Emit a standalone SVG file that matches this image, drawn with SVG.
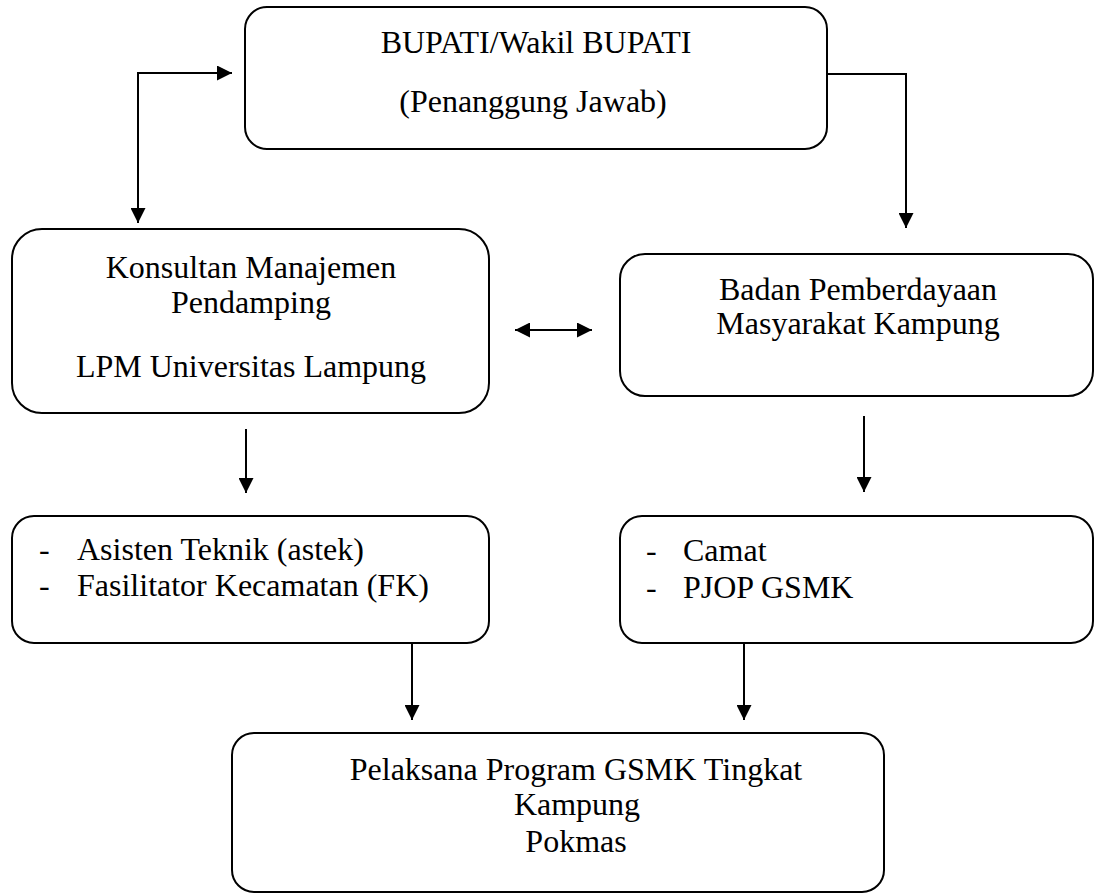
<svg xmlns="http://www.w3.org/2000/svg" width="1095" height="894" viewBox="0 0 1095 894">
<defs>
<marker id="ah" markerUnits="userSpaceOnUse" markerWidth="16" markerHeight="15" refX="15" refY="7.5" orient="auto-start-reverse">
<path d="M0,0 L15,7.5 L0,15 Z" fill="#000"/>
</marker>
</defs>
<rect width="1095" height="894" fill="#fff"/>
<g id="connectors" fill="none" stroke="#000" stroke-width="2">
<path d="M138,223 V73 H232" marker-start="url(#ah)" marker-end="url(#ah)"/>
<path d="M827,74 H906 V228" marker-end="url(#ah)"/>
<path d="M515,330 H592" marker-start="url(#ah)" marker-end="url(#ah)"/>
<path d="M246,429 V493" marker-end="url(#ah)"/>
<path d="M864,416 V492" marker-end="url(#ah)"/>
<path d="M412,643 V720" marker-end="url(#ah)"/>
<path d="M744,643 V720" marker-end="url(#ah)"/>
</g>
<g id="bupati">
<rect x="245" y="7" width="582" height="142" rx="22" fill="#fff" stroke="#000" stroke-width="2"/>
<text x="536" y="53" font-family="Liberation Serif" font-size="32" text-anchor="middle">BUPATI/Wakil BUPATI</text>
<text x="533" y="112" font-family="Liberation Serif" font-size="32" text-anchor="middle">(Penanggung Jawab)</text>
</g>
<g id="konsultan">
<rect x="12" y="229" width="477" height="184" rx="30" fill="#fff" stroke="#000" stroke-width="2"/>
<text x="251" y="278" font-family="Liberation Serif" font-size="32" text-anchor="middle">Konsultan Manajemen</text>
<text x="251" y="313" font-family="Liberation Serif" font-size="32" text-anchor="middle">Pendamping</text>
<text x="251" y="377" font-family="Liberation Serif" font-size="32" text-anchor="middle">LPM Universitas Lampung</text>
</g>
<g id="badan">
<rect x="620" y="254" width="473" height="142" rx="25" fill="#fff" stroke="#000" stroke-width="2"/>
<text x="858" y="300" font-family="Liberation Serif" font-size="32" text-anchor="middle">Badan Pemberdayaan</text>
<text x="858" y="334" font-family="Liberation Serif" font-size="32" text-anchor="middle">Masyarakat Kampung</text>
</g>
<g id="asisten">
<rect x="12" y="516" width="477" height="127" rx="22" fill="#fff" stroke="#000" stroke-width="2"/>
<text x="39" y="560" font-family="Liberation Serif" font-size="32">-</text>
<text x="77" y="560" font-family="Liberation Serif" font-size="32">Asisten Teknik (astek)</text>
<text x="39" y="596" font-family="Liberation Serif" font-size="32">-</text>
<text x="77" y="596" font-family="Liberation Serif" font-size="32">Fasilitator Kecamatan (FK)</text>
</g>
<g id="camat">
<rect x="620" y="516" width="473" height="127" rx="22" fill="#fff" stroke="#000" stroke-width="2"/>
<text x="646" y="561" font-family="Liberation Serif" font-size="32">-</text>
<text x="683" y="561" font-family="Liberation Serif" font-size="32">Camat</text>
<text x="646" y="598" font-family="Liberation Serif" font-size="32">-</text>
<text x="683" y="598" font-family="Liberation Serif" font-size="32">PJOP GSMK</text>
</g>
<g id="pelaksana">
<rect x="232" y="733" width="652" height="159" rx="22" fill="#fff" stroke="#000" stroke-width="2"/>
<text x="576" y="780" font-family="Liberation Serif" font-size="32" text-anchor="middle">Pelaksana Program GSMK Tingkat</text>
<text x="577" y="815" font-family="Liberation Serif" font-size="32" text-anchor="middle">Kampung</text>
<text x="576" y="852" font-family="Liberation Serif" font-size="32" text-anchor="middle">Pokmas</text>
</g>
</svg>
